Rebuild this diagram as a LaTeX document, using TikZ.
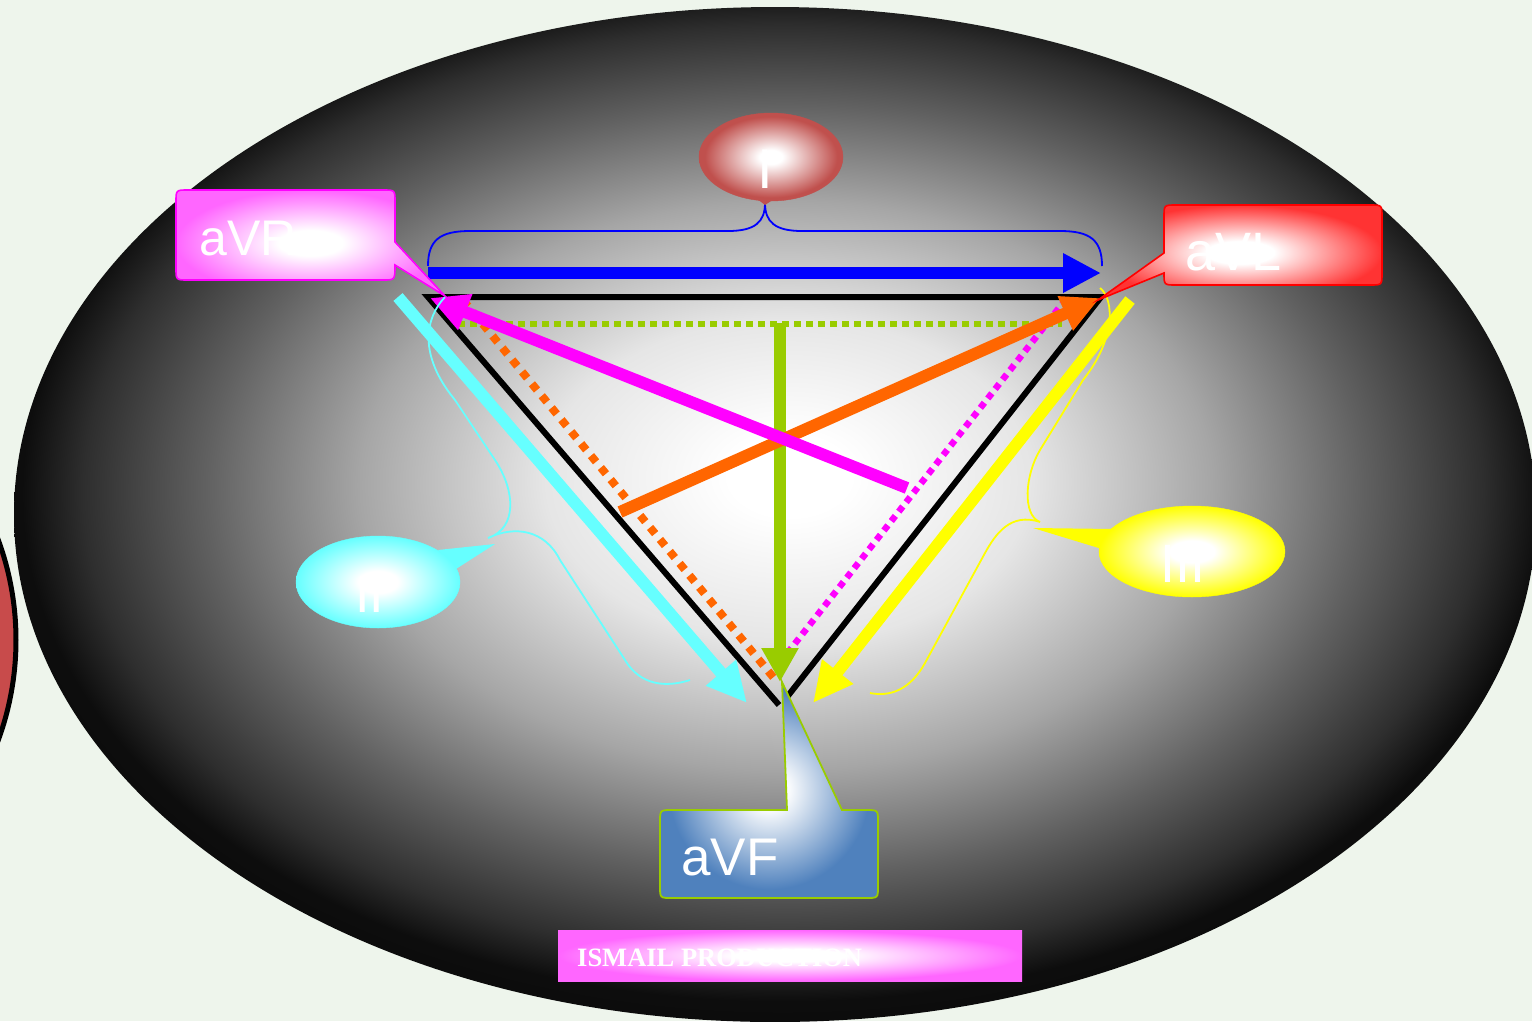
\documentclass[tikz,border=0pt]{standalone}
\usepackage{fontspec}
\newfontfamily\lbl{Liberation Sans}
\newfontfamily\sfb{Liberation Serif}
\usetikzlibrary{arrows.meta}
\definecolor{bgc}{RGB}{238,245,236}
\definecolor{cM}{RGB}{255,102,255}
\definecolor{cMag}{RGB}{255,0,255}
\definecolor{cR}{RGB}{255,51,51}
\definecolor{cI}{RGB}{192,80,77}
\definecolor{cRC}{RGB}{200,75,75}
\definecolor{cB}{RGB}{79,129,189}
\definecolor{cG}{RGB}{153,204,0}
\definecolor{cO}{RGB}{255,102,0}
\definecolor{cC}{RGB}{102,255,255}
\definecolor{cY}{RGB}{255,255,0}
\definecolor{cBlue}{RGB}{0,0,255}
\pgfdeclareradialshading{bgshade}{\pgfpoint{0.5bp}{2bp}}{color(0bp)=(white); color(2bp)=(white); color(8bp)=(black!10); color(14bp)=(black!35); color(19bp)=(black!62); color(23bp)=(black!82); color(25bp)=(black!95); color(50bp)=(black)}
\pgfdeclareradialshading{shM}{\pgfpointorigin}{color(0bp)=(white); color(6bp)=(white); color(25bp)=(cM); color(50bp)=(cM)}
\pgfdeclareradialshading{shR}{\pgfpointorigin}{color(0bp)=(white); color(6bp)=(white); color(25bp)=(cR); color(50bp)=(cR)}
\pgfdeclareradialshading{shI}{\pgfpointorigin}{color(0bp)=(white); color(4bp)=(white); color(23bp)=(cI); color(50bp)=(cI)}
\pgfdeclareradialshading{shB}{\pgfpointorigin}{color(0bp)=(white); color(4bp)=(white); color(23bp)=(cB); color(50bp)=(cB)}
\pgfdeclareradialshading{shC}{\pgfpointorigin}{color(0bp)=(white); color(6bp)=(white); color(25bp)=(cC); color(50bp)=(cC)}
\pgfdeclareradialshading{shY}{\pgfpointorigin}{color(0bp)=(white); color(6bp)=(white); color(25bp)=(cY); color(50bp)=(cY)}
\begin{document}
\begin{tikzpicture}[x=1pt,y=-1pt,
  lab/.style={text=white, inner sep=0pt, anchor=base west},
  fat/.style={line width=12pt, line cap=butt},
  headA/.style={-{Triangle[length=40pt,width=37pt]}},
  brace/.style={line width=1.8pt}]
\useasboundingbox (0,0) rectangle (1532,1021);
\fill[bgc] (0,0) rectangle (1532,1021);
% background oval
\shade[shading=bgshade] (775,514.5) ellipse [x radius=761, y radius=507.5];
% partial red circle at the left edge
\filldraw[fill=cRC, line width=5pt] (-274,640) circle [radius=290];

% triangle corners
\coordinate (TL) at (428,297);
\coordinate (TR) at (1101,297);
\coordinate (B) at (779,705);
\coordinate (B2) at (787,697);
\draw[line width=6pt, line join=miter] (B) -- (TL) -- (TR) -- (B2);

% blue arrow (I)
\coordinate (bl1) at (428,273);
\coordinate (bl2) at (1101,273);
\draw[cBlue, fat, -{Triangle[length=38pt,width=37pt]}] (bl1) -- (bl2);

% dotted lines
\coordinate (gd1) at (458,324);
\coordinate (gd2) at (1062,324);
\draw[cG, line width=6.5pt, dash pattern=on 6.5pt off 5.5pt] (gd1) -- (gd2);
\coordinate (od1) at (463,300);
\coordinate (od2) at (778,683);
\draw[cO, line width=8pt, dash pattern=on 8pt off 7.5pt] (od1) -- (od2);
\coordinate (md1) at (1066,299);
\coordinate (md2) at (782,660);
\draw[cMag, line width=6.5pt, dash pattern=on 6.5pt off 5.5pt] (md1) -- (md2);

% green vertical arrow
\coordinate (g1) at (780,323);
\coordinate (g2) at (780,682);
\draw[cG, fat, -{Triangle[length=34pt,width=35pt]}] (g1) -- (g2);

% orange solid arrow
\coordinate (o1) at (620,512);
\coordinate (o2) at (1100,298);
\draw[cO, fat, -{Triangle[length=38pt,width=35pt]}] (o1) -- (o2);

% magenta solid arrow
\coordinate (m1) at (907,488);
\coordinate (m2) at (430,298);
\draw[cMag, fat, -{Triangle[length=38pt,width=36pt]}] (m1) -- (m2);

% cyan arrow (II)
\coordinate (c1) at (398,297);
\coordinate (c2) at (747,703);
\draw[cC, fat, headA] (c1) -- (c2);

% yellow arrow (III)
\coordinate (y1) at (1130,300);
\coordinate (y2) at (813,703);
\draw[cY, fat, headA] (y1) -- (y2);

% blue brace
\draw[cBlue, brace] (428,266) .. controls (428,240) and (440,231) .. (470,231)
  -- (728,231) .. controls (755,231) and (765,222) .. (765,203)
  .. controls (765,222) and (775,231) .. (802,231) -- (1060,231)
  .. controls (1090,231) and (1102,240) .. (1102,266);

% cyan brace
\draw[cC, brace] (445,297) .. controls (425,318) and (418,355) .. (455,400)
  -- (495,460) .. controls (515,490) and (518,528) .. (488,538)
  .. controls (515,525) and (545,530) .. (560,560) -- (625,660)
  .. controls (640,685) and (665,688) .. (690,680);

% yellow brace
\draw[cY, brace] (1100,288) .. controls (1115,300) and (1115,340) .. (1083,380)
  -- (1040,450) .. controls (1025,475) and (1022,515) .. (1040,522)
  .. controls (1010,512) and (995,535) .. (985,553) -- (925,663)
  .. controls (910,690) and (890,697) .. (870,693);

% aVR callout
\shadedraw[shading=shM, draw=cMag, line width=1.6pt]
  (445,296) -- (395,265) .. controls (395,280) .. (383,280) -- (188,280)
  .. controls (176,280) .. (176,268) -- (176,202) .. controls (176,190) .. (188,190)
  -- (383,190) .. controls (395,190) .. (395,202) -- (395,242) -- cycle;
\node[lab, font=\lbl\fontsize{50}{50}\selectfont] (avr) at (199,255) {aVR};

% aVL callout
\shadedraw[shading=shR, draw=red, line width=1.6pt]
  (1098,300) -- (1164,273) .. controls (1164,285) .. (1176,285) -- (1370,285)
  .. controls (1382,285) .. (1382,273) -- (1382,217) .. controls (1382,205) .. (1370,205)
  -- (1176,205) .. controls (1164,205) .. (1164,217) -- (1164,253) -- cycle;
\node[lab, font=\lbl\fontsize{54}{54}\selectfont] (avl) at (1185,270) {aVL};

% aVF callout
\shadedraw[shading=shB, draw=cG, line width=1.8pt]
  (782,682) -- (842,810) -- (866,810) .. controls (878,810) .. (878,822) -- (878,886)
  .. controls (878,898) .. (866,898) -- (672,898) .. controls (660,898) .. (660,886)
  -- (660,822) .. controls (660,810) .. (672,810) -- (787,810) -- cycle;
\node[lab, font=\lbl\fontsize{53}{53}\selectfont] (avf) at (681,875) {aVF};

% I bubble
\fill[cI] (752,195) -- (765,205) -- (780,195) -- cycle;
\shadedraw[shading=shI, draw=cI] (771,157) ellipse [x radius=72, y radius=44];
\node[lab, font=\lbl\fontsize{56}{56}\selectfont] (lI) at (757,188) {I};

% II bubble
\fill[cC] (438,550) -- (495,544) -- (456,569) -- cycle;
\shadedraw[shading=shC, draw=cC] (378,582) ellipse [x radius=82, y radius=46];
\node[lab, font=\lbl\fontsize{52}{52}\selectfont] (lII) at (355,612) {II};

% III bubble
\fill[cY] (1114,529) -- (1033,528) -- (1102,549) -- cycle;
\shadedraw[shading=shY, draw=cY] (1192,551.5) ellipse [x radius=93, y radius=45.5];
\node[lab, font=\lbl\fontsize{54}{54}\selectfont] (lIII) at (1160,582) {III};

% ISMAIL PRODUCTION
\shade[shading=shM] (558,930) rectangle (1022,981);
\node[lab, font=\sfb\bfseries\fontsize{26.5}{26.5}\selectfont] (ismail) at (577,966) {ISMAIL PRODUCTION};
\end{tikzpicture}
\end{document}
